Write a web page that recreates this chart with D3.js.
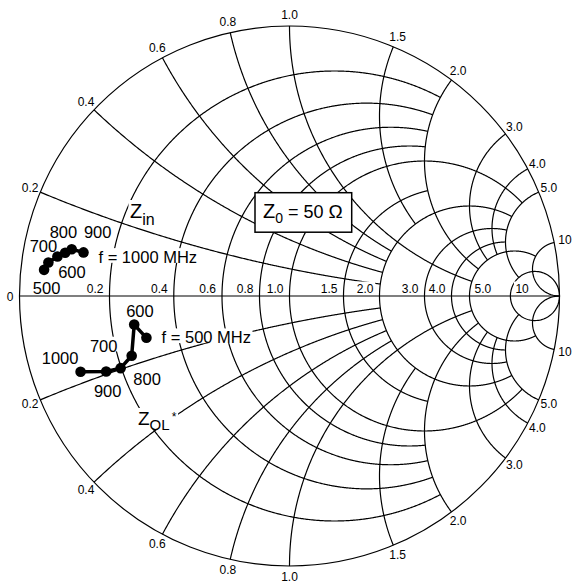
<!DOCTYPE html>
<html>
<head>
<meta charset="utf-8">
<script src="https://cdn.jsdelivr.net/npm/d3@7.9.0/dist/d3.min.js"></script>
<style>
  body { margin: 0; background: #fff; }
  svg text { font-family: "Liberation Sans", Arial, sans-serif; fill: #000; }
</style>
</head>
<body>
<svg id="chart" width="573" height="586"></svg>
<script>
// Smith chart grid: normalized values, their labels, and how far each line runs
const gridValues = [0.2, 0.4, 0.6, 0.8, 1.0, 1.5, 2.0, 3.0, 4.0, 5.0, 10];
const gridLabels = ['0.2', '0.4', '0.6', '0.8', '1.0', '1.5', '2.0', '3.0', '4.0', '5.0', '10'];
const gridLimits = [2, 2, 2, 2, 5, 2, 5, 5, 5, 10, Infinity];

// frequency points (MHz)
const freqs = [500, 600, 700, 800, 900, 1000];
// Zin, normalized to 50 ohm
const zinR = [0.045, 0.052, 0.069, 0.084, 0.097, 0.125];
const zinX = [0.053, 0.069, 0.084, 0.095, 0.105, 0.103];
// ZOL*, normalized to 50 ohm
const zolR = [0.294, 0.264, 0.238, 0.198, 0.159, 0.100];
const zolX = [-0.131, -0.085, -0.173, -0.197, -0.193, -0.174];

const cx = 289.5, cy = 296, R = 270;
const xs = d3.scaleLinear().domain([-1, 1]).range([cx - R, cx + R]);
const ys = d3.scaleLinear().domain([-1, 1]).range([cy + R, cy - R]);

// reflection coefficient for z = r + jx
function gamma(r, x) {
  const d = (r + 1) * (r + 1) + x * x;
  return [(r * r + x * x - 1) / d, 2 * x / d];
}

function spread(lim) {
  return d3.range(0, 401).map(k => lim === Infinity ? Math.tan(k / 400 * Math.PI / 2) : lim * k / 400);
}

const svg = d3.select('#chart');
const line = d3.line().x(d => xs(d[0])).y(d => ys(d[1]));

const gridLayer = svg.append('g').attr('fill', 'none').attr('stroke', '#000').attr('stroke-width', 1.2);
const bgLayer = svg.append('g');
const frameLayer = svg.append('g').attr('fill', 'none').attr('stroke', '#000').attr('stroke-width', 1.2);
const boxLayer = svg.append('g');
const dataLayer = svg.append('g');
const textLayer = svg.append('g');

// resistance circles and reactance arcs, upper and lower half
gridValues.forEach((v, i) => {
  const steps = spread(gridLimits[i]);
  [1, -1].forEach(s => {
    gridLayer.append('path').attr('d', line(steps.map(x => gamma(v, s * x))));
    gridLayer.append('path').attr('d', line(steps.map(r => gamma(r, s * v))));
  });
});

// outer rim and real axis
frameLayer.append('circle').attr('cx', xs(0)).attr('cy', ys(0)).attr('r', xs(1) - xs(0));
frameLayer.append('line').attr('x1', xs(-1)).attr('x2', xs(1)).attr('y1', ys(0)).attr('y2', ys(0));

// text with a white knock-out behind it
function addText(x, y, size, anchor, parts) {
  const t = textLayer.append('text')
    .attr('x', x).attr('y', y)
    .attr('text-anchor', anchor)
    .attr('font-size', size);
  parts.forEach(p => t.append('tspan')
    .attr('font-size', p[1])
    .attr('dy', p[2] || 0)
    .attr('dx', p[3] || 0)
    .text(p[0]));
  const b = t.node().getBBox();
  bgLayer.append('rect')
    .attr('x', b.x - 1.5).attr('y', b.y)
    .attr('width', b.width + 3).attr('height', b.height - 0.2 * size)
    .attr('fill', '#fff');
  return t;
}

// reactance labels around the rim
gridValues.forEach((v, i) => {
  [1, -1].forEach(s => {
    const g = gamma(0, s * v);
    const k = 281 / 270;
    textLayer.append('text')
      .attr('x', xs(g[0] * k))
      .attr('y', ys(g[1] * k))
      .attr('text-anchor', 'middle')
      .attr('dominant-baseline', 'central')
      .attr('font-size', 12)
      .text(gridLabels[i]);
  });
});

// resistance labels along the real axis
gridValues.forEach((v, i) => {
  const px = xs(gamma(v, 0)[0]);
  const after = v >= 5;
  addText(after ? px + 5 : px - 6, ys(0) - 3.5, 12, after ? 'start' : 'end', [[gridLabels[i], 12]]);
});
textLayer.append('text')
  .attr('x', xs(-1) - 6).attr('y', ys(0) + 4.5)
  .attr('text-anchor', 'end').attr('font-size', 12).text('0');

// Z0 box
boxLayer.append('rect')
  .attr('x', 255).attr('y', 192.7).attr('width', 96.7).attr('height', 39.5)
  .attr('fill', '#fff').attr('stroke', '#000').attr('stroke-width', 1.5);
const z0 = boxLayer.append('text').attr('x', 263).attr('y', 218).attr('font-size', 20);
z0.append('tspan').text('Z');
z0.append('tspan').attr('font-size', 14).attr('dy', 5).text('0');
z0.append('tspan').attr('font-size', 18).attr('dy', -5).text(' = 50 ');
z0.append('tspan').attr('font-size', 19).text('\u03A9');

// data curves
function drawCurve(rs, xsVals) {
  const pts = rs.map((r, i) => gamma(r, xsVals[i]));
  dataLayer.append('path')
    .attr('d', line(pts))
    .attr('fill', 'none').attr('stroke', '#000').attr('stroke-width', 3.5)
    .attr('stroke-linejoin', 'round');
  dataLayer.selectAll(null).data(pts).enter().append('circle')
    .attr('cx', d => xs(d[0])).attr('cy', d => ys(d[1])).attr('r', 5.3)
    .attr('fill', '#000');
  return pts;
}
const zinPts = drawCurve(zinR, zinX);
const zolPts = drawCurve(zolR, zolX);

// frequency labels next to the points
const zinOffsets = [[2.5, 24.4, 'middle'], [23.5, 15.4, 'middle'], [-14, -4.1, 'middle'],
                    [-1.7, -15.1, 'middle'], [26, -11.7, 'middle'], [15, 10.7, 'start']];
const zolOffsets = [[15.2, 5.6, 'start'], [5.7, -7.1, 'middle'], [-28, -4.1, 'middle'],
                    [26.5, 16.6, 'middle'], [1.5, 25.2, 'middle'], [-20.5, -8.1, 'middle']];
function freqText(pts, offsets, lastLabel) {
  pts.forEach((p, i) => {
    const o = offsets[i];
    const txt = (lastLabel === i) ? 'f = ' + freqs[i] + ' MHz' : String(freqs[i]);
    addText(xs(p[0]) + o[0], ys(p[1]) + o[1], 16.5, o[2], [[txt, 16.5]]);
  });
}
freqText(zinPts, zinOffsets, 5);
freqText(zolPts, zolOffsets, 0);

// curve names
addText(130, 218, 20, 'start', [['Z', 20], ['in', 16, 7]]);
addText(138, 425, 19, 'start', [['Z', 19], ['OL', 15, 5], ['*', 12, -9.5, 2]]);
</script>
</body>
</html>
